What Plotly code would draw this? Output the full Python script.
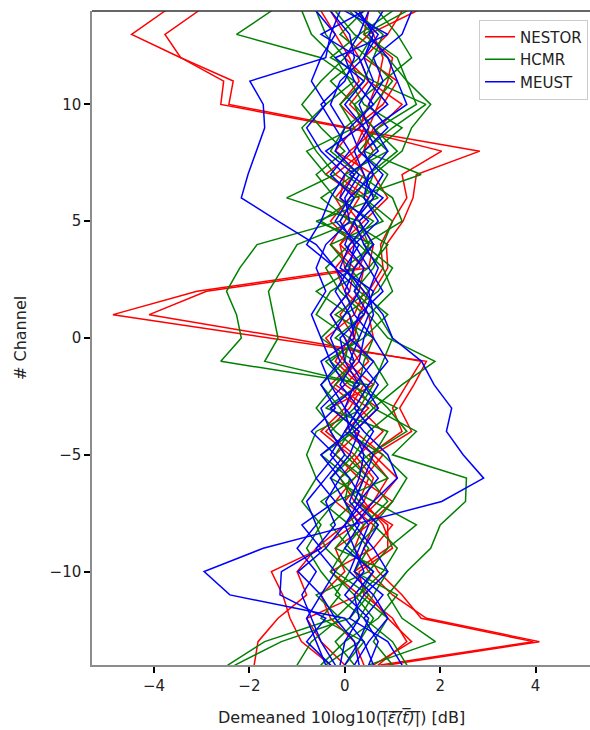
import plotly.graph_objects as go

# Channels (top to bottom)
channels = list(range(15, -16, -1))

# NESTOR (red) profiles, values listed for channels 15 .. -15
nestor = [
    [-3.0, -3.77, -4.47, -3.44, -2.54, -2.6, 0.0, 2.83, 1.5, 1.43, 1.22, 0.87, 0.9, 0.6, 0.4, 0.1, -0.2, 0.3, 0.0, -0.5, 0.1, 0.5, 0.3, 0.9, 0.9, 0.2, 0.5, 0.9, 1.4, 0.6, 0.2],
    [-2.4, -3.07, -3.77, -3.44, -2.34, -2.43, 0.1, 2.03, 1.2, 1.3, 1.0, 0.75, 0.8, 0.5, 0.3, 0.2, -0.1, 0.4, 0.1, -0.4, 0.2, 0.6, 0.4, 0.8, 1.0, 0.3, 0.4, 1.0, 1.3, 0.7, 0.3],
    [0.5, 0.3, 0.6, 0.8, 0.7, 0.5, 0.3, 0.6, 0.2, -0.2, 0.1, 0.5, 0.3, -3.1, -4.86, -1.6, 1.71, 1.45, 1.15, 1.4, 0.6, 1.1, 0.7, 0.2, -0.5, -1.54, -1.3, -1.15, -0.91, -0.3, 0.0],
    [0.7, 0.5, 0.4, 1.0, 0.9, 0.7, 0.5, 0.4, 0.0, -0.1, 0.3, 0.6, 0.5, -2.9, -4.1, -1.2, 1.6, 1.3, 1.0, 1.2, 0.5, 0.9, 0.6, 0.0, -0.6, -1.0, -0.8, -1.4, -1.82, -1.9, -1.8],
    [-0.3, -0.5, -0.2, 0.1, 0.3, -0.1, 0.4, 0.2, -0.4, 0.3, 0.0, -0.3, 0.2, 0.1, -0.3, 0.0, 0.3, -0.2, 0.5, 0.0, 0.6, 0.2, -0.2, 0.4, 0.2, 0.5, 1.0, 1.71, 4.08, 0.9, 0.4],
    [-0.1, -0.3, 0.0, 0.3, 0.5, 0.1, 0.6, 0.4, -0.2, 0.5, 0.2, -0.1, 0.4, 0.3, -0.1, 0.2, 0.5, 0.0, 0.7, 0.2, 0.8, 0.4, 0.0, 0.6, 0.4, 0.7, 1.2, 1.6, 3.95, 0.75, 0.3],
    [0.2, 1.2, 0.9, 0.4, 1.1, 0.8, 0.2, -0.2, 0.6, 0.9, 0.4, -0.1, 0.0, 0.4, 0.2, -0.4, 0.0, 0.6, -0.3, 0.3, -0.2, 0.3, 1.0, 0.5, -0.2, 0.0, -0.5, -0.3, 0.2, 0.4, 0.1],
    [0.9, 1.5, 0.5, 0.0, 0.5, 1.2, 0.7, 0.1, 0.4, 0.1, -0.3, 0.2, -0.2, 0.0, 0.5, 0.6, 0.2, -0.3, 0.3, 0.8, 0.3, -0.1, 0.2, 1.0, 0.6, -0.3, 0.3, -0.8, -0.5, 0.0, 0.3],
]

# HCMR (green) profiles
hcmr = [
    [-1.0, -1.54, -2.27, -0.5, 0.2, -0.4, -0.9, -0.6, -0.2, -1.22, 0.3, 0.5, 0.2, -0.6, 0.1, 0.3, -0.3, 0.2, 0.6, 0.1, -0.2, 0.4, 0.2, -0.3, 0.1, 0.6, 0.3, -0.2, -1.68, -2.45, -2.8],
    [0.4, 0.1, 0.6, 0.3, -0.3, 0.2, 0.6, 1.1, 0.5, 0.2, -0.1, -1.84, -2.2, -2.48, -2.27, -2.17, -2.6, 0.5, 0.2, -0.3, 0.0, 0.5, 0.9, 0.4, 0.0, -0.3, 0.2, 0.6, 0.3, -0.4, -0.6],
    [-0.6, -0.2, 0.2, 0.9, 1.3, 1.5, 0.7, 0.3, 0.9, 0.6, 0.2, -1.0, -1.3, -1.6, -1.5, -1.4, -1.68, 0.4, 0.9, 1.3, 0.5, -0.1, 0.3, 0.7, 0.2, -0.2, 0.5, 0.1, -1.33, -2.3, -2.6],
    [0.8, 1.0, 0.3, -0.3, 0.6, 1.7, 1.0, 0.4, 1.6, 0.2, -0.5, 0.3, 0.8, 1.0, 0.5, 0.9, 1.89, 1.2, 0.6, 1.5, 1.0, 2.55, 2.53, 2.0, 1.8, 1.3, 0.9, 1.2, 1.9, 0.5, 0.2],
    [-0.2, 0.4, -0.1, 0.5, 1.0, 0.6, 0.0, -0.3, 0.3, 1.0, 1.2, 0.4, 1.0, 0.7, 0.0, -0.5, 0.2, -0.2, -0.6, -0.2, 0.4, 0.9, -0.2, -0.6, -0.4, 0.1, -0.2, 0.4, 1.0, 1.3, 1.0],
    [0.3, -0.6, -0.4, 0.0, -0.5, -0.9, -0.5, 0.0, -0.6, -0.2, 0.6, 0.1, -0.4, -0.1, 0.4, -0.2, 0.6, 0.9, 0.4, -0.6, -0.8, -0.6, -0.9, -0.5, -0.8, -0.5, -0.1, -0.5, 0.4, 0.0, -0.2],
    [1.2, 0.7, 1.1, 1.4, 0.8, 0.2, 0.4, 0.9, 0.0, 0.7, -0.6, 0.6, 0.0, 0.3, 0.9, 0.4, -0.4, 0.1, 1.1, 0.5, 0.2, -0.3, 0.6, 1.5, 0.9, 0.5, -0.6, -0.1, -0.7, -1.0, -0.8],
    [0.0, -0.9, -0.7, -0.2, 0.1, 0.4, 1.2, 0.6, 0.2, -0.5, 0.1, 0.9, 0.5, -0.3, -0.6, 0.1, 0.0, -0.5, -0.1, 0.2, -0.5, 0.1, 0.0, 0.2, -0.2, 0.9, 0.6, 0.3, -0.2, 0.2, 0.5],
    [-0.8, 0.2, 0.8, 0.6, 0.4, -0.1, 0.2, -0.8, -0.4, 0.4, 0.8, -0.3, 0.1, 0.5, -0.2, 0.6, 0.4, 0.3, -0.4, 0.9, 0.6, 0.2, -0.5, 0.1, 0.5, 0.2, 1.1, 0.7, 0.0, -0.5, -0.3],
    [0.6, 1.3, 0.4, 1.1, 1.3, 1.8, 1.4, 1.2, 0.6, 0.4, 1.0, 0.8, 0.6, 0.2, 0.7, 1.0, 0.8, 0.6, 0.3, 0.0, 0.8, 1.3, 1.0, 0.6, 1.1, 0.8, 0.3, 0.9, 0.6, 1.0, 0.8],
]

# MEUST (blue) profiles
meust = [
    [0.3, -0.1, -0.3, -0.4, -1.99, -1.71, -1.68, -1.85, -2.03, -2.17, -1.4, -0.6, -0.2, 0.1, -0.3, 0.0, 0.2, -0.1, 0.3, 0.0, -0.3, 0.1, 0.4, 0.0, -0.4, -0.98, -0.5, -0.2, 0.2, 0.3, 0.2],
    [1.0, 1.4, 1.2, 0.6, 0.8, 0.5, 0.9, 0.4, 0.6, 0.1, -0.2, 0.3, 0.0, 0.4, 0.8, 1.0, 1.61, 1.87, 2.24, 2.13, 2.48, 2.91, 2.03, 0.16, -1.71, -2.95, -2.41, 0.0, 0.4, 0.6, 0.5],
    [-0.4, -0.6, -0.2, -0.5, -0.7, -0.4, -0.8, -0.5, 0.0, -0.3, -0.5, -0.8, -0.2, 0.3, 0.0, -0.3, -0.1, -0.5, -0.2, -0.7, -0.2, -0.6, -0.2, -0.9, -0.5, -1.33, -1.36, -0.4, -0.8, -0.3, -0.1],
    [0.0, 0.5, 0.3, 0.0, 0.2, 0.6, 0.1, 0.3, 0.8, 0.5, 0.2, 0.0, 0.4, 0.2, 0.5, 0.3, 0.1, 0.4, 0.7, 0.2, 0.4, 0.3, 0.1, 0.5, 0.3, 0.1, 0.6, 0.9, 0.5, 0.2, 0.0],
    [0.6, 0.8, 0.5, 0.9, 1.1, 1.3, 0.6, 0.9, 0.5, 0.4, 0.7, 0.2, 0.5, 0.8, 0.3, 0.1, 0.6, 0.2, 0.0, 0.4, 0.9, 1.1, 0.6, 0.2, 0.6, 0.9, 0.4, 0.1, 0.9, 1.2, 1.0],
    [-0.2, 0.2, 0.7, 0.4, -0.1, -0.3, 0.0, -0.2, 0.3, 0.0, 0.1, -0.4, -0.6, -0.4, -0.7, -0.5, -0.3, 0.0, -0.5, -0.3, 0.0, -0.4, -0.8, -0.6, -1.0, -0.6, -0.9, -0.7, -0.5, -0.2, 0.0],
    [0.2, 0.0, 0.9, -0.2, 0.4, 0.0, 0.4, 0.7, 0.1, 0.8, 0.3, 0.6, 0.2, 0.0, 0.2, 0.6, 0.9, 0.5, 0.2, 0.6, 0.3, 0.7, 0.3, 0.0, 0.2, 0.4, 0.0, 0.5, 0.3, 0.0, -0.2],
    [0.1, -0.3, 0.1, 0.2, 0.0, -0.5, -0.2, 0.1, -0.3, 0.2, -0.1, 0.2, 0.1, -0.2, 0.1, 0.2, -0.5, -0.3, 0.0, 0.1, -0.5, -0.1, -0.4, -0.2, -0.6, -0.2, -0.5, -0.8, -0.6, -0.4, -0.3],
    [0.5, 0.3, 0.6, 0.4, 0.6, 0.3, 0.5, 0.2, 0.4, 0.6, 0.2, 0.4, 0.7, 0.5, 0.6, 0.4, 0.3, 0.7, 0.4, 0.1, 0.6, 0.4, 0.2, 0.7, 0.4, 0.2, 0.8, 0.4, 0.7, 0.5, 0.3],
    [-0.1, 0.4, -0.5, 0.3, 0.5, 0.9, 0.3, -0.4, 0.2, -0.1, 0.5, 0.1, -0.1, 0.6, 0.4, -0.1, 0.0, 0.3, -0.3, 0.3, 0.1, -0.3, 0.0, 0.3, 0.0, 0.6, 0.2, 0.3, 0.0, -0.1, 0.1],
]

groups = [("NESTOR", "#ff0000", nestor), ("HCMR", "#008000", hcmr), ("MEUST", "#0000ff", meust)]

x_ticks = [-4, -2, 0, 2, 4]
y_ticks = [-10, -5, 0, 5, 10]

fig = go.Figure()
for name, color, profiles in groups:
    for i, vals in enumerate(profiles):
        fig.add_trace(go.Scatter(
            x=vals, y=channels, mode="lines", name=name, legendgroup=name,
            showlegend=(i == 0), line=dict(color=color, width=1.5),
        ))

font = "DejaVu Sans, Verdana, sans-serif"
tick_style = dict(ticks="outside", ticklen=6, tickwidth=2, tickcolor="#000",
                  tickfont=dict(family=font, size=15, color="#222"),
                  showgrid=False, zeroline=False, showline=True,
                  linecolor="#8c8c8c", linewidth=1.5)

fig.update_layout(
    width=590, height=730,
    margin=dict(l=92, r=0, t=11, b=65),
    paper_bgcolor="white", plot_bgcolor="white",
    font=dict(family=font, size=15, color="#222"),
    xaxis=dict(range=[-5.3, 5.14], tickvals=x_ticks, **tick_style),
    yaxis=dict(range=[-14, 14], tickvals=y_ticks, **tick_style),
    legend=dict(x=0.996, y=0.987, xanchor="right", yanchor="top",
                bgcolor="rgba(255,255,255,0.85)", bordercolor="#cccccc", borderwidth=1,
                font=dict(family=font, size=15, color="#222"),
                tracegroupgap=0),
    showlegend=True,
    hovermode=False,
)

# top border line
fig.add_shape(type="line", xref="paper", yref="paper", x0=0, x1=1, y0=1, y1=1,
              line=dict(color="#333", width=1.5))

ov = "\u0305"
over_txt = "".join(ch + ov for ch in "|\u03b5\u0307(t)|")
fig.add_annotation(text="Demeaned 10log10(<i>" + over_txt + "</i>) [dB]",
                   xref="paper", yref="paper", x=0.5, y=0, yanchor="middle",
                   yshift=-52, showarrow=False,
                   font=dict(family=font, size=16, color="#222"))
fig.add_annotation(text="# Channel", xref="paper", yref="paper", x=0, y=0.5,
                   xanchor="center", yanchor="middle", xshift=-72, textangle=-90,
                   showarrow=False, font=dict(family=font, size=16, color="#222"))

fig.write_html("out.html",
               config={"displayModeBar": False},
               post_script="document.body.style.margin='0';document.body.style.overflow='hidden';")
